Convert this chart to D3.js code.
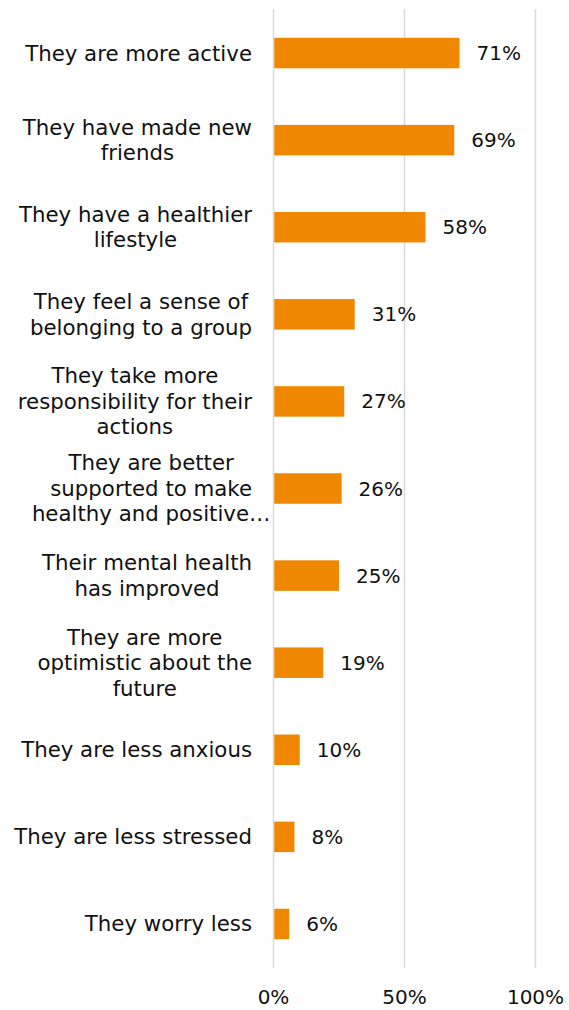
<!DOCTYPE html>
<html>
<head>
<meta charset="utf-8">
<script src="https://cdn.jsdelivr.net/npm/d3@7"></script>
<style>
  html, body { margin: 0; padding: 0; background: #ffffff; }
  svg { display: block; }
  text { font-family: "DejaVu Sans", Verdana, sans-serif; fill: #111111; }
</style>
</head>
<body>
<svg id="chart" width="569" height="1010"></svg>
<script>
// Category labels, already broken into the lines they are shown on
const categoryLines = [
  ["They are more active"],
  ["They have made new", "friends"],
  ["They have a healthier", "lifestyle"],
  ["They feel a sense of", "belonging to a group"],
  ["They take more", "responsibility for their", "actions"],
  ["They are better", "supported to make", "healthy and positive\u2026"],
  ["Their mental health", "has improved"],
  ["They are more", "optimistic about the", "future"],
  ["They are less anxious"],
  ["They are less stressed"],
  ["They worry less"]
];
// Share of respondents (%)
const values = [71, 69, 58, 31, 27, 26, 25, 19, 10, 8, 6];
const tickValues = [0, 50, 100];

const svg = d3.select("#chart");
const labelFontSize = 21.3;
const numberFontSize = 20;
const lineHeight = 25.5;

const x = d3.scaleLinear().domain([0, 100]).range([273.5, 535.5]);
const y = d3.scaleBand()
  .domain(d3.range(values.length))
  .range([9.5, 967.5])
  .paddingInner(0.65)
  .paddingOuter(0.325);

// vertical gridlines
svg.append("g")
  .selectAll("line")
  .data(tickValues)
  .join("line")
  .attr("x1", d => x(d)).attr("x2", d => x(d))
  .attr("y1", 9).attr("y2", 968)
  .attr("stroke", "#d9d9d9")
  .attr("stroke-width", 1.5);

// bars
svg.append("g")
  .selectAll("rect")
  .data(values)
  .join("rect")
  .attr("x", x(0) + 0.75)
  .attr("y", (d, i) => y(i))
  .attr("width", d => x(d) - x(0) - 0.75)
  .attr("height", y.bandwidth())
  .attr("fill", "#ef8700");

// value labels
svg.append("g")
  .selectAll("text")
  .data(values)
  .join("text")
  .attr("x", d => x(d) + 17)
  .attr("y", (d, i) => y(i) + y.bandwidth() / 2)
  .attr("dy", "0.35em")
  .attr("font-size", numberFontSize)
  .text(d => d + "%");

// category labels: lines centred on a common axis, block right-aligned to the plot
const labelRight = 252;
const measure = svg.append("text").attr("font-size", labelFontSize).attr("opacity", 0);
function textWidth(s) { measure.text(s); return measure.node().getComputedTextLength(); }

const labels = svg.append("g");
categoryLines.forEach((lines, i) => {
  const full = lines.filter(l => !l.endsWith("\u2026"));
  const w = d3.max(full.length ? full : lines, textWidth);
  const cx = labelRight - w / 2;
  const cy = y(i) + y.bandwidth() / 2;
  const top = cy - (lines.length - 1) * lineHeight / 2;
  const t = labels.append("text")
    .attr("font-size", labelFontSize)
    .attr("text-anchor", "middle");
  lines.forEach((l, k) => {
    t.append("tspan")
      .attr("x", cx)
      .attr("y", top + k * lineHeight)
      .attr("dy", "0.35em")
      .text(l);
  });
});
measure.remove();

// x axis tick labels
svg.append("g")
  .selectAll("text")
  .data(tickValues)
  .join("text")
  .attr("x", d => x(d))
  .attr("y", 997)
  .attr("dy", "0.35em")
  .attr("text-anchor", "middle")
  .attr("font-size", numberFontSize)
  .text(d => d + "%");
</script>
</body>
</html>
